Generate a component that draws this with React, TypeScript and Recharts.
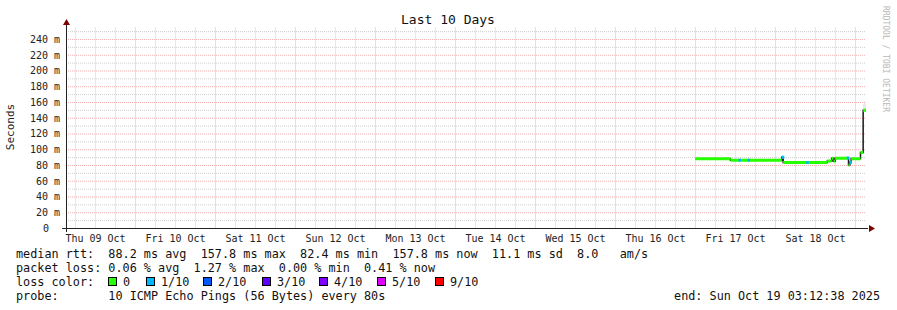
import { Bar, ComposedChart, Line, ReferenceLine, Scatter, XAxis, YAxis } from "recharts"

// time axis: hours since Thu 09 Oct 00:00
const startHour = 3.15
const endHour = 243.15

const dayLabels = [
  "Thu 09 Oct", "Fri 10 Oct", "Sat 11 Oct", "Sun 12 Oct", "Mon 13 Oct",
  "Tue 14 Oct", "Wed 15 Oct", "Thu 16 Oct", "Fri 17 Oct", "Sat 18 Oct",
]
const labelHours = [12, 36, 60, 84, 108, 132, 156, 180, 204, 228]
const midnightHours = [24, 48, 72, 96, 120, 144, 168, 192, 216, 240]
const yTicks = [0, 20, 40, 60, 80, 100, 120, 140, 160, 180, 200, 220, 240]
const yMinor = [10, 30, 50, 70, 90, 110, 130, 150, 170, 190, 210, 230, 250]

// median rtt (ms)
const medianHours = [192.0, 202.5, 217.9, 218.3, 231.5, 232.9, 233.4, 233.9, 237.6, 237.9, 238.3, 238.7, 241.5, 242.3, 243.15]
const medianMs = [88.5, 86.8, 90.5, 83.8, 85.7, 89.3, 85.4, 89.3, 89.5, 80.5, 84.0, 88.5, 96.5, 150.0, 150.0]

// samples with 1/10 loss
const lossHours = [205.2, 207.9, 218.2, 225.5, 237.7, 238.5]
const lossMs = [86.8, 86.8, 90.5, 83.8, 89.5, 84.0]

// smoke (spread of the pings)
const smokeHours = [202.5, 217.9, 232.6, 237.9, 241.4, 242.1, 242.5, 242.8, 243.1]
const darkLow = [86.5, 83.5, 84.5, 80.0, 88.0, 95.0, 146.0, 148.0, 150.0]
const darkHigh = [88.8, 92.0, 90.0, 89.5, 97.0, 150.0, 158.0, 160.0, 158.0]
const lightLow = [null, null, null, null, null, null, 150.0, 152.0, 152.0]
const lightHigh = [null, null, null, null, null, null, 165.0, 164.0, 163.0]

const lossColors = ["#26ff00", "#00b8ff", "#0059ff", "#5e00ff", "#7e00ff", "#dd00ff", "#ff0000"]
const lossLabels = ["0", "1/10", "2/10", "3/10", "4/10", "5/10", "9/10"]

const medianData = medianHours.map((h, i) => ({ h, ms: medianMs[i] }))
// horizontal pieces of the median, drawn green over the dark risers
const medianSegments = medianHours.slice(0, -1).map((h, i) => [
  { h, ms: medianMs[i] },
  { h: medianHours[i + 1], ms: medianMs[i] },
])
const lossData = lossHours.map((h, i) => ({ h, ms: lossMs[i] }))
const smokeData = smokeHours.map((h, i) => ({
  h,
  dark: [darkLow[i], darkHigh[i]],
  light: lightLow[i] == null ? null : [lightLow[i], lightHigh[i]],
}))

const minorHours: number[] = []
for (let h = 6; h < endHour; h += 6) if (h % 24 !== 0) minorHours.push(h)

const MONO = "'DejaVu Sans Mono', monospace"
const MINOR = "#cfcfcf"
const MAJOR = "#efb0b0"
const LEGEND_SIZE = 11.8

const XTick = ({ x, y, payload }: any) => (
  <text x={x} y={y + 13} textAnchor="middle" fontFamily={MONO} fontSize={10} fill="#222">
    {dayLabels[labelHours.indexOf(payload.value)]}
  </text>
)

const YTick = ({ x, y, payload }: any) => (
  <text x={payload.value === 0 ? x - 17 : x - 6} y={y + 3.5} textAnchor="end" fontFamily={MONO} fontSize={10} fill="#222">
    {payload.value === 0 ? "0" : `${payload.value} m`}
  </text>
)

const LossDot = ({ cx, cy }: any) => <rect x={cx - 1} y={cy - 1.5} width={2.5} height={3} fill="#00b8ff" />

const rttLine = "median rtt:  88.2 ms avg  157.8 ms max  82.4 ms min  157.8 ms now  11.1 ms sd  8.0   am/s"
const lossLine = "packet loss: 0.06 % avg  1.27 % max  0.00 % min  0.41 % now"
const probeLine = "probe:       10 ICMP Echo Pings (56 Bytes) every 80s"
const endLine = "end: Sun Oct 19 03:12:38 2025"
const swatchX = [108, 146, 203, 262, 319, 377, 435]

const legendText = { fontFamily: MONO, fontSize: LEGEND_SIZE, fill: "#111", style: { whiteSpace: "pre" as const } }

export default function App() {
  return (
    <div style={{ position: "absolute", left: 0, top: 0, width: 897, height: 310, background: "#fff" }}>
      <ComposedChart width={897} height={310} data={smokeData} margin={{ top: 26.5, right: 31, left: 0, bottom: 0 }}>
        <XAxis
          type="number"
          dataKey="h"
          domain={[startHour, endHour]}
          ticks={labelHours}
          interval={0}
          height={81.5}
          tickSize={0}
          tickMargin={0}
          tickLine={false}
          axisLine={false}
          tick={<XTick />}
          allowDataOverflow
        />
        <YAxis
          type="number"
          domain={[0, 256.5]}
          ticks={yTicks}
          interval={0}
          width={66}
          tickSize={0}
          tickMargin={0}
          tickLine={false}
          axisLine={false}
          tick={<YTick />}
          allowDataOverflow
        />
        {minorHours.map((h) => (
          <ReferenceLine key={`vm${h}`} x={h} stroke={MINOR} strokeDasharray="1 1" />
        ))}
        {yMinor.map((v) => (
          <ReferenceLine key={`hm${v}`} y={v} stroke={MINOR} strokeDasharray="1 1" />
        ))}
        {midnightHours.map((h) => (
          <ReferenceLine key={`vM${h}`} x={h} stroke={MAJOR} strokeDasharray="1 1" />
        ))}
        {yTicks.slice(1).map((v) => (
          <ReferenceLine key={`hM${v}`} y={v} stroke={MAJOR} strokeDasharray="1 1" />
        ))}
        <Bar dataKey="light" fill="#b4b4b4" barSize={3} isAnimationActive={false} />
        <Bar dataKey="dark" fill="#262626" barSize={2} isAnimationActive={false} />
        <Line
          data={medianData}
          dataKey="ms"
          type="stepAfter"
          stroke="#1c1c1c"
          strokeWidth={1.5}
          dot={false}
          isAnimationActive={false}
        />
        {medianSegments.map((seg, i) => (
          <Line
            key={`seg${i}`}
            data={seg}
            dataKey="ms"
            type="linear"
            stroke="#26ff00"
            strokeWidth={3}
            dot={false}
            isAnimationActive={false}
          />
        ))}
        <Scatter data={lossData} dataKey="ms" shape={<LossDot />} isAnimationActive={false} />
      </ComposedChart>
      <svg width={897} height={310} style={{ position: "absolute", left: 0, top: 0, pointerEvents: "none" }}>
        <line x1={66.5} y1={22} x2={66.5} y2={232} stroke="#222" />
        <line x1={62} y1={228.5} x2={868} y2={228.5} stroke="#222" />
        <path d="M63,25 L70,25 L66.5,19 Z" fill="#7a0000" />
        <path d="M869,225 L869,232 L875,228.5 Z" fill="#7a0000" />
        <text x={448} y={24} textAnchor="middle" fontFamily={MONO} fontSize={13} fill="#111">
          Last 10 Days
        </text>
        <text
          x={14}
          y={127}
          transform="rotate(-90 14 127)"
          textAnchor="middle"
          fontFamily={MONO}
          fontSize={11}
          fill="#222"
        >
          Seconds
        </text>
        <text
          x={883}
          y={59}
          transform="rotate(90 883 59)"
          textAnchor="middle"
          fontFamily={MONO}
          fontSize={8}
          fill="#b8b8b8"
        >
          RRDTOOL / TOBI OETIKER
        </text>
        <text x={16} y={258} {...legendText}>{rttLine}</text>
        <text x={16} y={272} {...legendText}>{lossLine}</text>
        <text x={16} y={286} {...legendText}>loss color:</text>
        {lossColors.map((c, i) => (
          <g key={c}>
            <rect x={swatchX[i] + 0.5} y={277.5} width={8} height={8} fill={c} stroke="#000" />
            <text x={swatchX[i] + 15} y={286} {...legendText}>{lossLabels[i]}</text>
          </g>
        ))}
        <text x={16} y={300} {...legendText}>{probeLine}</text>
        <text x={880} y={300} textAnchor="end" {...legendText}>{endLine}</text>
      </svg>
    </div>
  )
}
